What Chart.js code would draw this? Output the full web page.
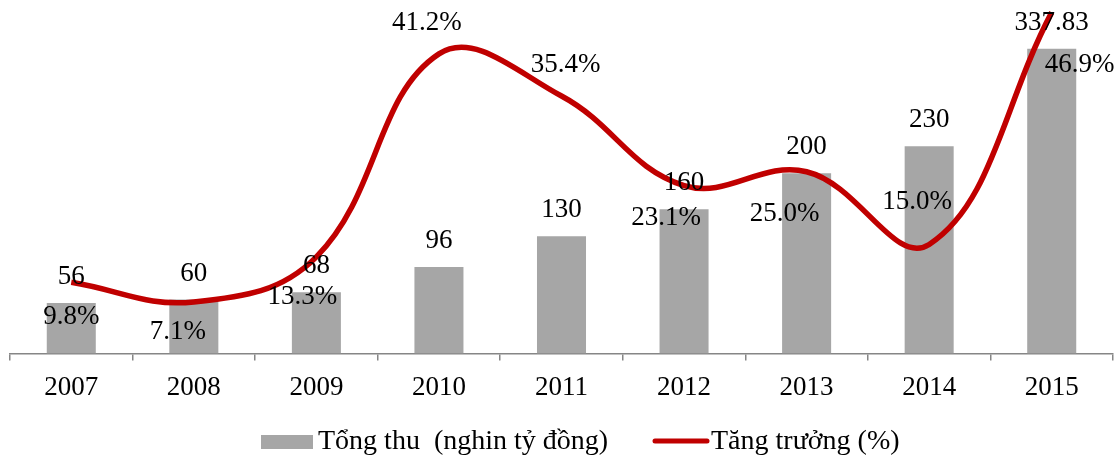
<!DOCTYPE html>
<html>
<head>
<meta charset="utf-8">
<script src="https://cdn.jsdelivr.net/npm/chart.js@4"></script>
<style>
  html, body { margin: 0; padding: 0; background: #fff; }
  #wrap { width: 1117px; height: 457px; }
</style>
</head>
<body>
<div id="wrap"><canvas id="myChart" width="1117" height="457"></canvas></div>
<script>
const years = ["2007", "2008", "2009", "2010", "2011", "2012", "2013", "2014", "2015"];
const tongThu = [56, 60, 68, 96, 130, 160, 200, 230, 337.83];
const tangTruong = [9.8, 7.1, 13.3, 41.2, 35.4, 23.1, 25.0, 15.0, 46.9];
const barLabels = ["56", "60", "68", "96", "130", "160", "200", "230", "337.83"];
const growthLabels = ["9.8%", "7.1%", "13.3%", "41.2%", "35.4%", "23.1%", "25.0%", "15.0%", "46.9%"];
// where each % label sits relative to its point (dx, dy in px)
const growthLabelOffsets = [[0, 35], [-16, 30], [-14, 40], [-12, -31], [4, -31], [-18, 32], [-22, 42], [-12, -43], [28, 53]];

const FONT = "'Liberation Serif', 'Times New Roman', serif";
const GREY = "#a6a6a6";
const RED = "#c00000";

const labelsPlugin = {
    id: "labelsPlugin",
    afterDatasetsDraw(chart) {
        const ctx = chart.ctx;
        const xs = chart.scales.x, yb = chart.scales.yBar, yl = chart.scales.yLine;
        ctx.save();
        ctx.font = "27px " + FONT;
        ctx.fillStyle = "#000";
        ctx.textAlign = "center";
        ctx.textBaseline = "middle";
        years.forEach((y, i) => {
            const x = xs.getPixelForValue(i);
            ctx.fillText(barLabels[i], x, yb.getPixelForValue(tongThu[i]) - 26);
            const [dx, dy] = growthLabelOffsets[i];
            ctx.fillText(growthLabels[i], x + dx, yl.getPixelForValue(tangTruong[i]) + dy);
        });
        ctx.restore();
    },
    afterDraw(chart) {
        // legend at the bottom
        const ctx = chart.ctx;
        ctx.save();
        ctx.font = "28px " + FONT;
        ctx.textBaseline = "middle";
        ctx.textAlign = "left";
        ctx.fillStyle = GREY;
        ctx.fillRect(261, 435, 52, 14);
        ctx.fillStyle = "#000";
        ctx.fillText("Tổng thu  (nghin tỷ đồng)", 318, 442);
        ctx.strokeStyle = RED;
        ctx.lineWidth = 5;
        ctx.lineCap = "round";
        ctx.beginPath();
        ctx.moveTo(655, 441);
        ctx.lineTo(707, 441);
        ctx.stroke();
        ctx.fillText("Tăng trưởng (%)", 711, 442);
        ctx.restore();
    }
};

const chartData = {
    labels: years,
    datasets: [
        {
            type: "line",
            label: "Tăng trưởng (%)",
            data: tangTruong,
            yAxisID: "yLine",
            borderColor: RED,
            borderWidth: 5.5,
            pointRadius: 0,
            tension: 0.4,
            clip: false,
            order: 1,
        },
        {
            type: "bar",
            label: "Tổng thu  (nghin tỷ đồng)",
            data: tongThu,
            yAxisID: "yBar",
            backgroundColor: GREY,
            categoryPercentage: 1,
            barPercentage: 0.4,
            order: 2,
        },
    ],
};

const chartOptions = {
    responsive: false,
    animation: false,
    layout: { padding: { left: 10, right: 4, top: 0, bottom: 42 } },
    plugins: { legend: { display: false }, tooltip: { enabled: false } },
    scales: {
        x: {
            offset: true,
            grid: { offset: true, drawOnChartArea: false, drawTicks: true, tickLength: 7, color: "#868686", lineWidth: 1.5 },
            border: { color: "#868686", width: 1.5 },
            ticks: { color: "#000", font: { family: FONT, size: 27 }, padding: 11, maxRotation: 0 },
        },
        yBar: { display: false, min: 0, max: 392 },
        yLine: { display: false, min: 0, max: 48.6 },
    },
};

new Chart(document.getElementById("myChart").getContext("2d"), {
    data: chartData,
    options: chartOptions,
    plugins: [labelsPlugin],
});
</script>
</body>
</html>
